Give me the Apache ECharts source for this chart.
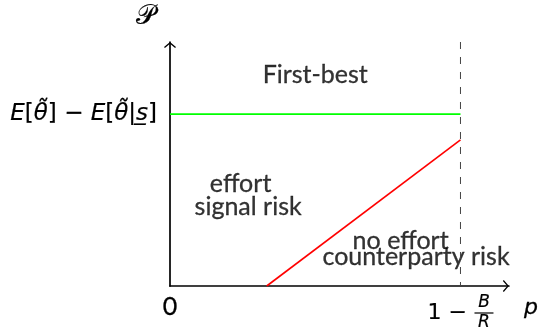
<!DOCTYPE html>
<html><head><meta charset="utf-8">
<script src="https://cdn.jsdelivr.net/npm/echarts@6/dist/echarts.min.js"></script>
<style>html,body{margin:0;padding:0;background:#fff}#c{width:541px;height:333px}</style>
</head><body><div id="c"></div>
<script>
// Axis ranges (p on the horizontal axis, 𝒫 on the vertical axis)
const pMax = 7 / 6;
const payoffMax = 1.42;

// Dashed boundary at p = 1 − B/R
const boundaryP = [1, 1];
const boundaryV = [1.42, 0];

// First-best level E[θ̃] − E[θ̃|s̲]
const firstBestP = [0, 1];
const firstBestV = [1, 1];

// No-effort payoff line
const noEffortP = [0.333, 1];
const noEffortV = [0, 0.85];

// Tick positions and their labels
const pTicks = [0, 1];
const pTickLabels = ['0', '1 − B/R'];
const payoffTicks = [1];

// Region annotations
const regionText = ['First-best', 'effort', 'signal risk', 'no effort', 'counterparty risk'];
const regionP = [0.5, 0.243, 0.269, 0.794, 0.847];
const regionV = [1.228, 0.595, 0.462, 0.262, 0.172];

const FONT = 'Lato';
const MATH = 'DejaVu Sans';
// a hairline outline in the text colour gives the labels a firmer stroke
const ink = { color: '#000', textBorderColor: '#000', textBorderWidth: 0.3 };

const zip = (a, b) => a.map((v, i) => [v, b[i]]);
// open arrow head pointing up, scaled by ECharts to the symbol box
const arrowHead = 'path://M6,0 L12,5.1 L11.1,6 L6,1.7 L0.9,6 L0,5.1 Z';

const chart = echarts.init(document.getElementById('c'));

chart.setOption({
  animation: false,
  grid: { left: 170, right: 28, top: 42, bottom: 47 },
  xAxis: {
    type: 'value', min: 0, max: pMax,
    name: 'p',
    nameLocation: 'end', nameGap: 15,
    nameTextStyle: { fontFamily: MATH, fontStyle: 'italic', fontSize: 22, verticalAlign: 'top', padding: [11, 0, 0, 0], ...ink },
    axisLine: { show: true, symbol: ['none', arrowHead], symbolSize: [12, 6], symbolOffset: [0, -3], lineStyle: { color: '#000', width: 1.7 } },
    axisTick: { show: false },
    splitLine: { show: false },
    axisLabel: {
      customValues: pTicks, margin: 12, color: '#000',
      formatter: v => v === pTicks[0]
        ? '{zero|' + pTickLabels[0] + '}'
        : '{pad| }{num|B}\n{one|1 − }{bar| }\n{pad| }{num|R}',
      rich: {
        zero: { fontFamily: FONT, fontSize: 25, lineHeight: 18, ...ink },
        pad: { width: 47, lineHeight: 10 },
        num: { fontFamily: MATH, fontStyle: 'italic', fontSize: 17, width: 19, align: 'center', lineHeight: 10, ...ink, textBorderWidth: 0.2 },
        one: { fontFamily: MATH, fontSize: 22, width: 47, align: 'left', lineHeight: 10, ...ink, textBorderWidth: 0.2 },
        bar: { width: 19, height: 1.2, backgroundColor: '#000', lineHeight: 10 }
      }
    }
  },
  yAxis: {
    type: 'value', min: 0, max: payoffMax,
    name: '𝒫',
    nameLocation: 'end', nameGap: 12,
    nameTextStyle: { fontFamily: MATH, fontSize: 27, padding: [0, 50, 0, 0], ...ink, textBorderWidth: 0.2 },
    axisLine: { show: true, symbol: ['none', arrowHead], symbolSize: [12, 6], symbolOffset: [0, -3], lineStyle: { color: '#000', width: 1.7 } },
    axisTick: { show: false },
    splitLine: { show: false },
    axisLabel: {
      customValues: payoffTicks, margin: 13, color: '#000',
      formatter: () => '{i|E}{u|[}{i|θ̃}{u|] − }{i|E}{u|[}{i|θ̃}{u||}{i|s̲}{u|]}',
      rich: {
        i: { fontFamily: MATH, fontStyle: 'italic', fontSize: 23, ...ink, textBorderWidth: 0.2 },
        u: { fontFamily: MATH, fontSize: 23, ...ink, textBorderWidth: 0.2 }
      }
    }
  },
  series: [
    { type: 'line', data: zip(boundaryP, boundaryV), symbol: 'none', silent: true,
      lineStyle: { color: '#444', width: 1, type: [7, 8] } },
    { type: 'line', data: zip(firstBestP, firstBestV), symbol: 'none', silent: true,
      lineStyle: { color: '#00ff00', width: 1.7 } },
    { type: 'line', data: zip(noEffortP, noEffortV), symbol: 'none', silent: true,
      lineStyle: { color: '#ff0000', width: 1.6 } },
    { type: 'scatter', symbolSize: 0, silent: true,
      data: regionText.map((t, i) => ({ value: [regionP[i], regionV[i]], name: t })),
      label: { show: true, position: 'inside', formatter: p => p.name, fontFamily: FONT, fontSize: 25, ...ink } }
  ]
});
</script></body></html>
